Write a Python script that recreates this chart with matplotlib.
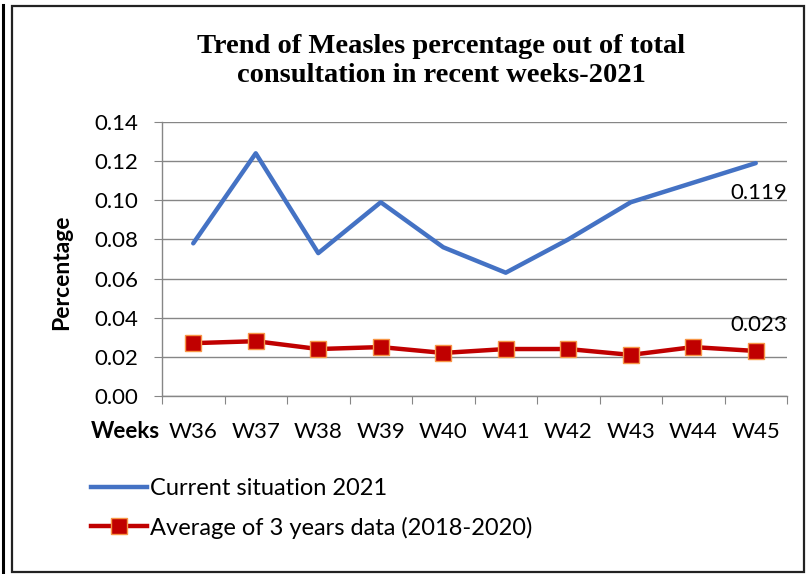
import matplotlib
matplotlib.use("Agg")
import matplotlib.pyplot as plt
from matplotlib.lines import Line2D
from matplotlib.patches import Rectangle

weeks = ["W36", "W37", "W38", "W39", "W40", "W41", "W42", "W43", "W44", "W45"]
current_2021 = [0.078, 0.124, 0.073, 0.099, 0.076, 0.063, 0.080, 0.099, 0.109, 0.119]
avg_2018_2020 = [0.027, 0.028, 0.024, 0.025, 0.022, 0.024, 0.024, 0.021, 0.025, 0.023]
y_ticks = [0.00, 0.02, 0.04, 0.06, 0.08, 0.10, 0.12, 0.14]

title_text = "Trend of Measles percentage out of total\nconsultation in recent weeks-2021"
series_names = ["Current situation 2021", "Average of 3 years data (2018-2020)"]

W, H = 809, 574
fig = plt.figure(figsize=(W / 100, H / 100), dpi=100)
sans = ["Lato", "DejaVu Sans"]
fs = 16

ax = fig.add_axes([162 / W, 1 - 396 / H, (787 - 162) / W, (396 - 122) / H])
x = list(range(len(weeks)))
blue = "#4472C4"
red = "#C00000"
ax.plot(x, current_2021, color=blue, lw=3.2, solid_capstyle="round", zorder=3)
ax.plot(x, avg_2018_2020, color=red, lw=3.2, marker="s", markersize=11,
        markerfacecolor=red, markeredgecolor="#F79646", markeredgewidth=1, zorder=3)

ax.set_xlim(-0.5, len(weeks) - 0.5)
ax.set_ylim(0, 0.14)
ax.set_yticks(y_ticks)
ax.set_yticklabels([f"{v:.2f}" for v in y_ticks], fontsize=fs, family=sans)
ax.set_xticks([i - 0.5 for i in range(len(weeks) + 1)])
ax.set_xticklabels([])
ax.set_xticks(x, minor=True)
ax.set_xticklabels(weeks, minor=True, fontsize=fs, family=sans)
ax.tick_params(axis="x", which="minor", length=0, pad=19)
ax.tick_params(axis="x", which="major", length=6, color="#868686", direction="out")
ax.tick_params(axis="y", length=6, color="#868686", direction="out", pad=11)
ax.grid(axis="y", color="#868686", lw=1)
ax.set_axisbelow(True)
for s in ["top", "right"]:
    ax.spines[s].set_visible(False)
for s in ["left", "bottom"]:
    ax.spines[s].set_color("#868686")
    ax.spines[s].set_linewidth(1)

ax.annotate(f"{current_2021[-1]:.3f}", (x[-1], current_2021[-1]), xytext=(2, -21.5),
            textcoords="offset points", ha="center", va="center", fontsize=fs, family=sans)
ax.annotate(f"{avg_2018_2020[-1]:.3f}", (x[-1], avg_2018_2020[-1]), xytext=(2, 18.5),
            textcoords="offset points", ha="center", va="center", fontsize=fs, family=sans)

fig.text(441 / W, 1 - 61 / H, title_text, ha="center", va="center", fontsize=20.5,
         fontweight="bold", family="Liberation Serif", linespacing=1.18)
fig.text(62 / W, 1 - 272 / H, "Percentage", rotation=90, ha="center", va="center",
         fontsize=16.5, fontweight="bold", family=sans)
fig.text(160 / W, 1 - 432 / H, "Weeks", ha="right", va="center",
         fontsize=fs, fontweight="bold", family=sans)

handles = [Line2D([], [], color=blue, lw=3.2),
           Line2D([], [], color=red, lw=3.2, marker="s", markersize=11,
                  markerfacecolor=red, markeredgecolor="#F79646", markeredgewidth=1)]
fig.legend(handles, series_names, loc="upper left", bbox_to_anchor=(82 / W, 1 - 469 / H),
           frameon=False, prop={"family": sans, "size": 17}, handlelength=2.35,
           handletextpad=0.12, labelspacing=0.72, borderaxespad=0)

# borders
fig.add_artist(Line2D([3 / W, 3 / W], [0, 1 - 5 / H], color="black", lw=2.2,
                      transform=fig.transFigure))
fig.add_artist(Rectangle((12 / W, 2 / H), (804 - 12) / W, (572 - 6) / H, fill=False,
                         edgecolor="#222222", lw=1.6, transform=fig.transFigure))

fig.savefig("out.png", dpi=100)
